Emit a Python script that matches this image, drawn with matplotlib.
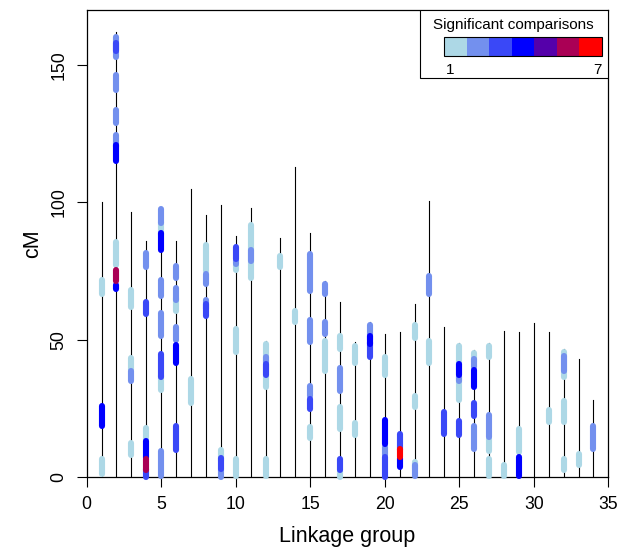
import matplotlib
matplotlib.use('Agg')
import matplotlib.pyplot as plt
from matplotlib.patches import Rectangle

plt.rcParams['font.family'] = ['Liberation Sans', 'DejaVu Sans']

# colour ramp lightblue -> blue -> red, 7 steps
palette = ['#ADD8E6', '#7390EE', '#3A48F7', '#0000FF', '#5500AA', '#AA0055', '#FF0000']

# length (cM) of each linkage group
groups = list(range(1, 35))
lengths = [100, 162, 96.5, 86, 98, 86, 105, 95.5, 99, 87.6,
           98, 49.5, 87, 112.8, 88.8, 71.4, 63.8, 49, 56.5, 52,
           52.6, 62.8, 100.4, 54.7, 48.7, 46.2, 48.7, 53, 52.6, 56.2,
           52.7, 46.5, 42.8, 28]

# intervals: linkage group, start cM, end cM, number of significant comparisons
seg_lg = [1, 1, 1,
          2, 2, 2, 2, 2, 2, 2, 2, 2,
          3, 3, 3, 3,
          4, 4, 4, 4, 4, 4,
          5, 5, 5, 5, 5, 5, 5, 5,
          6, 6, 6, 6, 6, 6,
          7,
          8, 8, 8, 8,
          9, 9, 9,
          10, 10, 10, 10, 10,
          11, 11,
          12, 12, 12, 12,
          13, 14,
          15, 15, 15, 15, 15,
          16, 16, 16,
          17, 17, 17, 17, 17,
          18, 18,
          19, 19, 19,
          20, 20, 20, 20,
          21, 21, 21,
          22, 22, 22, 22,
          23, 23,
          24,
          25, 25, 25, 25,
          26, 26, 26, 26, 26,
          27, 27, 27, 27,
          28,
          29, 29,
          31,
          32, 32, 32, 32,
          33,
          34]
seg_start = [66.7, 18.5, 1.0,
             153, 155, 141, 129, 120, 115, 77, 71.5, 68.3,
             62, 39, 35, 8,
             76.6, 59.3, 14, 7, 0, 2.5,
             88, 92.5, 82.5, 66, 51.5, 31.5, 36.3, 0.5,
             72.3, 60.6, 64.3, 50, 41.4, 10,
             27,
             75, 70.2, 61, 58.5,
             6, 0, 3,
             75.3, 77.5, 79.3, 45.4, 0.5,
             72.6, 78.8,
             32.6, 42, 37, 0.5,
             76.5, 56.6,
             67.8, 49, 29.5, 24.8, 14.1,
             66.6, 52, 38.5,
             46.6, 31.4, 17.5, 0, 2.6,
             41.4, 15.4,
             50, 43.5, 48.5,
             37.1, 8, 0, 12,
             10, 3.6, 7.3,
             50.6, 25.6, 3, 0.5,
             66.6, 41.4,
             15.7,
             28.2, 35, 37, 15.4,
             42, 40, 32.6, 22.3, 10.2,
             43.5, 9.6, 14.5, 0.5,
             0.5,
             9, 0.5,
             19.9,
             36.5, 38.6, 19.9, 2.6,
             4.2,
             10.2]
seg_end = [71.7, 25.8, 6.6,
           160, 158, 146.5, 133.5, 124.5, 121, 85.5, 75.5, 70,
           68, 43.4, 38.6, 12.5,
           81.5, 63.7, 17.7, 13, 3, 6.5,
           93, 97.7, 89, 71.8, 59.7, 37, 44.6, 9.5,
           76.8, 65, 68.8, 54.6, 48, 18.6,
           35.5,
           84.6, 74, 64.6, 63,
           9.7, 3, 7,
           77, 79, 83.6, 53.7, 6.6,
           91.8, 82.6,
           48.5, 43.5, 41, 6.6,
           80.6, 60.6,
           81.2, 57.3, 33.2, 28.5, 18.3,
           70.4, 56.5, 49.5,
           51.5, 39.5, 25.5, 2, 6.6,
           47.8, 19.7,
           55.5, 49, 51.5,
           43.6, 11, 7.3, 20.6,
           15.6, 7, 10.3,
           55.5, 29.4, 5.5, 4.2,
           73.3, 49.4,
           23.6,
           47.6, 36.5, 41, 20.3,
           45.1, 43, 39, 26.8, 18.5,
           47.6, 14, 22.4, 6.6,
           4.3,
           17.5, 7.3,
           24.3,
           45.5, 43.9, 27.6, 6.6,
           8.5,
           18.5]
seg_n = [1, 4, 1,
         2, 3, 2, 2, 2, 4, 1, 6, 4,
         1, 1, 2, 1,
         2, 3, 1, 4, 3, 6,
         1, 2, 4, 2, 2, 1, 3, 2,
         2, 1, 2, 2, 4, 3,
         1,
         1, 2, 2, 3,
         1, 2, 3,
         1, 2, 3, 1, 1,
         1, 2,
         1, 2, 3, 1,
         1, 1,
         2, 2, 2, 3, 1,
         2, 2, 1,
         1, 2, 1, 1, 3,
         1, 1,
         2, 3, 4,
         1, 2, 3, 4,
         3, 4, 7,
         1, 1, 1, 2,
         2, 1,
         3,
         1, 2, 4, 3,
         1, 2, 4, 3, 2,
         1, 1, 2, 1,
         1,
         1, 4,
         1,
         1, 2, 1, 1,
         1,
         2]

fig = plt.figure(figsize=(6.3, 5.47), dpi=100)
ax = fig.add_axes([0.1376, 0.128, 0.828, 0.8537])

for g, l in zip(groups, lengths):
    ax.plot([g, g], [0, l], color='black', lw=0.8, zorder=2)

# lower counts first so higher counts sit on top
order = sorted(range(len(seg_n)), key=lambda i: seg_n[i])
for i in order:
    ax.plot([seg_lg[i], seg_lg[i]], [seg_start[i], seg_end[i]],
            color=palette[seg_n[i] - 1], lw=4.4, solid_capstyle='round',
            zorder=3, clip_on=False)

ax.set_xlim(0, 35)
ax.set_ylim(0, 170)
ax.set_xticks(range(0, 36, 5))
ax.set_yticks([0, 50, 100, 150])
ax.tick_params(direction='out', length=7, width=0.8, pad=7, labelsize=12.7)
for lab in ax.get_yticklabels():
    lab.set_rotation(90)
    lab.set_va('center')
for s in ax.spines.values():
    s.set_linewidth(0.9)

ax.set_xlabel('Linkage group', fontsize=15.5, labelpad=9)
ax.set_ylabel('cM', fontsize=15.5, labelpad=5)

# legend box
ax.add_patch(Rectangle((0.639, 0.854), 0.361, 0.146, transform=ax.transAxes,
                       facecolor='white', edgecolor='black', lw=0.8, zorder=5))
ax.text(0.817, 0.968, 'Significant comparisons', transform=ax.transAxes,
        ha='center', va='center', fontsize=11, zorder=6)
x0, w = 0.685, (0.988 - 0.685) / len(palette)
for k, c in enumerate(palette):
    ax.add_patch(Rectangle((x0 + k * w, 0.9015), w, 0.0405, transform=ax.transAxes,
                           facecolor=c, edgecolor='none', zorder=6))
ax.add_patch(Rectangle((x0, 0.9015), 0.988 - x0, 0.0405, transform=ax.transAxes,
                       facecolor='none', edgecolor='black', lw=0.8, zorder=7))
ax.text(0.697, 0.8715, '1', transform=ax.transAxes, ha='center', va='center', fontsize=11, zorder=6)
ax.text(0.979, 0.8715, '7', transform=ax.transAxes, ha='center', va='center', fontsize=11, zorder=6)

fig.savefig('out.png', dpi=100)
